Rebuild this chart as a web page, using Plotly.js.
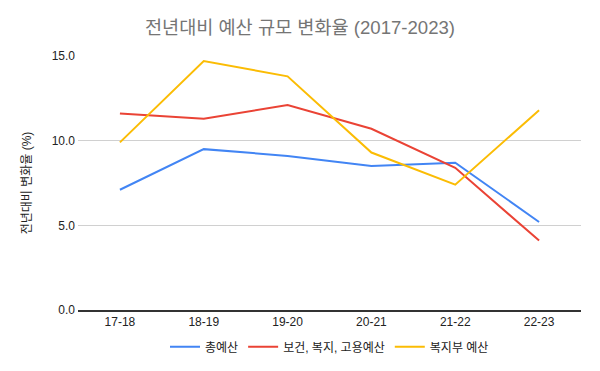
<!DOCTYPE html>
<html>
<head>
<meta charset="utf-8">
<script src="https://cdn.plot.ly/plotly-3.0.1.min.js"></script>
<style>html,body{margin:0;padding:0;background:#fff;}#chart{width:600px;height:371px;}</style>
</head>
<body>
<div id="chart"></div>
<script>
const categories = ["17-18", "18-19", "19-20", "20-21", "21-22", "22-23"];
const totalBudget = [7.1, 9.5, 9.1, 8.5, 8.7, 5.2];
const healthWelfareEmployment = [11.6, 11.3, 12.1, 10.7, 8.4, 4.1];
const welfareMinistry = [9.9, 14.7, 13.8, 9.3, 7.4, 11.8];
const seriesNames = ["총예산", "보건, 복지, 고용예산", "복지부 예산"];
const colors = ["#4285F4", "#EA4335", "#FBBC04"];
const FONT = "Liberation Sans, Arial, 'Noto Sans CJK KR', sans-serif";

const traces = [totalBudget, healthWelfareEmployment, welfareMinistry].map((v, i) => ({
  x: categories, y: v, name: seriesNames[i], type: "scatter", mode: "lines",
  line: {color: colors[i], width: 2}
}));

const layout = {
  width: 600, height: 371,
  margin: {l: 78, r: 19, t: 56, b: 61, autoexpand: false},
  paper_bgcolor: "#fff", plot_bgcolor: "#fff",
  font: {family: FONT, size: 12, color: "#222"},
  title: {text: "전년대비 예산 규모 변화율 (2017-2023)", font: {family: FONT, size: 18.6, color: "#757575"}, x: 0.5, xanchor: "center", y: 0.925, yanchor: "middle"},
  xaxis: {
    type: "category", range: [-0.5, 5.5], showgrid: false, zeroline: false,
    showline: true, linecolor: "#333", linewidth: 1.5,
    ticks: "", tickfont: {family: FONT, size: 12, color: "#222"}, fixedrange: true
  },
  yaxis: {
    range: [0, 15], dtick: 5, tickformat: ".1f", showgrid: true, gridcolor: "#d0d0d0", gridwidth: 1,
    zeroline: false, showline: false, ticks: "", ticklabelstandoff: 2,
    tickfont: {family: FONT, size: 12, color: "#222"},
    title: {text: "전년대비 변화율 (%)", font: {family: FONT, size: 12, color: "#222"}, standoff: 17}
  },
  legend: {orientation: "h", x: 0.5, xanchor: "center", y: -0.145, yanchor: "middle",
    font: {family: FONT, size: 12, color: "#222"}, itemwidth: 30, traceorder: "normal"},
  showlegend: true
};
Plotly.newPlot("chart", traces, layout, {displayModeBar: false, staticPlot: true});
</script>
</body>
</html>
